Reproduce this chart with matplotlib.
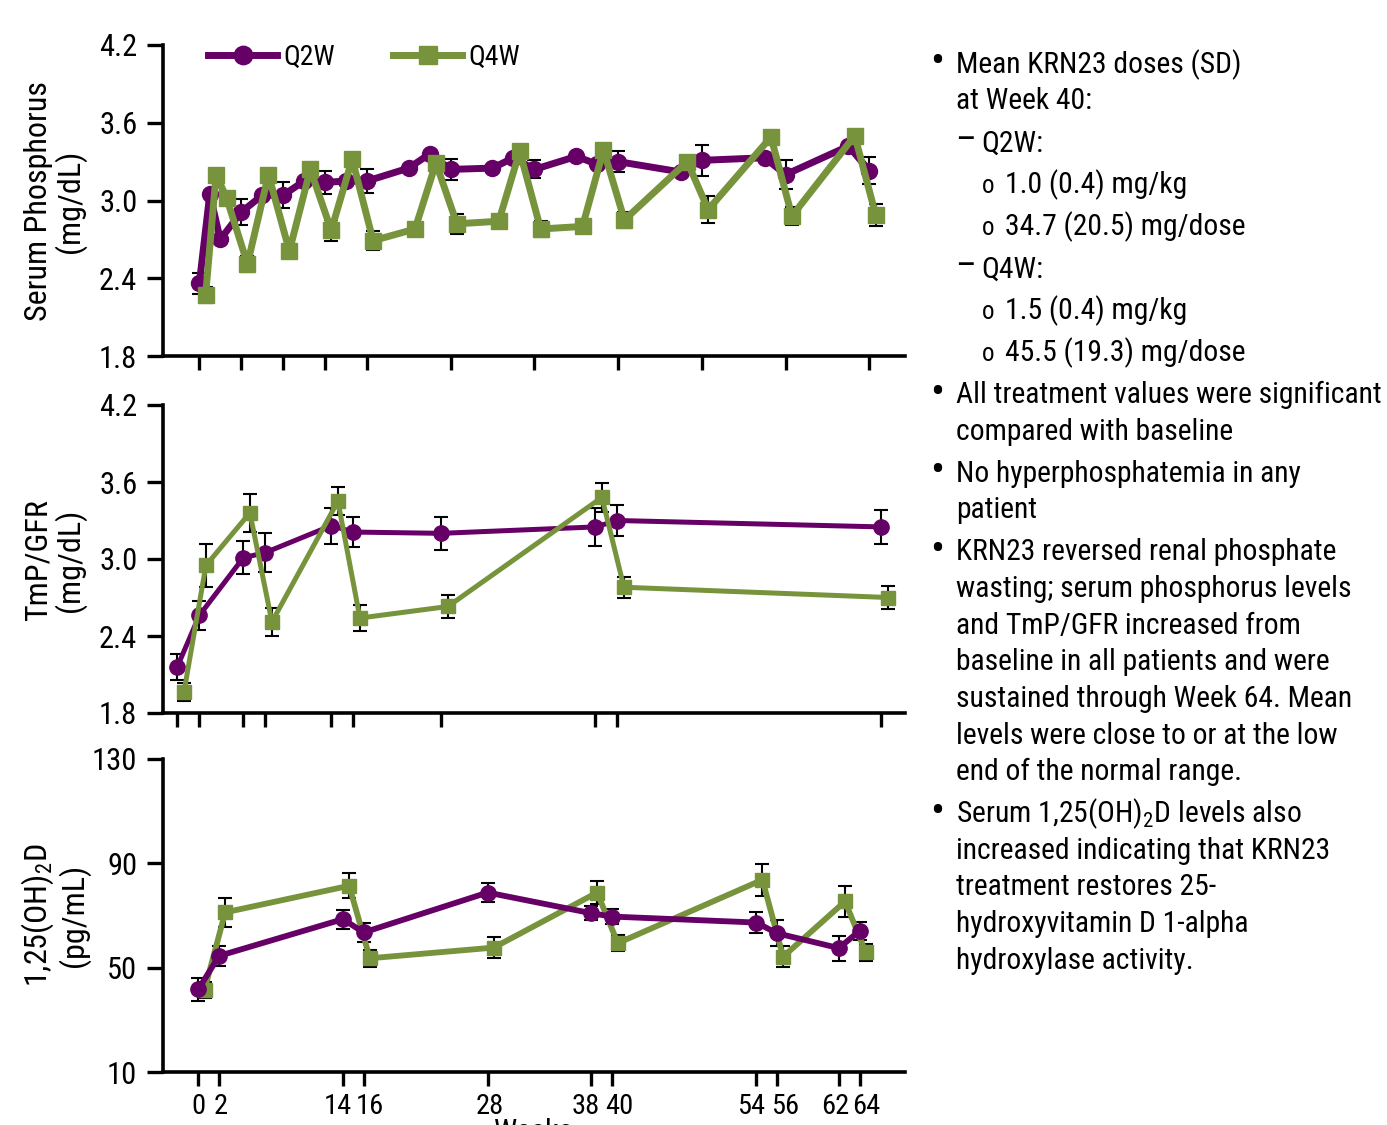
import numpy as np
import matplotlib
matplotlib.use("Agg")
import matplotlib.pyplot as plt
from matplotlib import font_manager
from matplotlib.transforms import ScaledTranslation

# ---- data ----
# serum phosphorus, mg/dL
sp_weeks = [0, 1, 2, 4, 6, 8, 10, 12, 14, 16, 20, 22, 24, 28, 30, 32, 36, 38, 40, 46, 48, 54, 56, 62, 64]
sp_q2w = [2.36, 3.05, 2.70, 2.91, 3.04, 3.04, 3.15, 3.14, 3.15, 3.15, 3.25, 3.36, 3.24,
          3.25, 3.33, 3.24, 3.34, 3.28, 3.30, 3.22, 3.31, 3.33, 3.20, 3.42, 3.23]
sp_q2w_sd = [0.08, None, None, 0.10, None, 0.10, None, 0.09, None, 0.09, None, None, 0.08,
             None, None, 0.07, None, None, 0.08, None, 0.12, None, 0.11, None, 0.105]
sp_q4w = [2.27, 3.20, 3.02, 2.51, 3.20, 2.61, 3.24, 2.77, 3.32, 2.69, 2.78, 3.29, 2.82,
          2.84, 3.38, 2.78, 2.80, 3.39, 2.85, 3.30, 2.93, 3.49, 2.88, 3.50, 2.89]
sp_q4w_sd = [0.06, None, None, 0.065, None, 0.04, None, 0.08, None, 0.073, None, None, 0.076,
             None, None, 0.058, None, None, 0.064, None, 0.105, None, 0.07, None, 0.085]

# TmP/GFR, mg/dL
tmp_weeks = [0, 2, 6, 8, 14, 16, 24, 38, 40, 64]
tmp_q2w = [2.16, 2.56, 3.01, 3.05, 3.26, 3.21, 3.20, 3.25, 3.30, 3.25]
tmp_q2w_sd = [0.10, 0.11, 0.13, 0.15, 0.14, 0.12, 0.13, 0.15, 0.12, 0.13]
tmp_q4w = [1.96, 2.95, 3.36, 2.51, 3.45, 2.54, 2.63, 3.48, 2.78, 2.70]
tmp_q4w_sd = [0.07, 0.17, 0.15, 0.11, 0.11, 0.10, 0.09, 0.11, 0.08, 0.09]

# 1,25(OH)2D, pg/mL
vd_weeks = [0, 2, 14, 16, 28, 38, 40, 54, 56, 62, 64]
vd_q2w = [41.7, 54.5, 68.6, 63.5, 78.8, 70.9, 69.6, 67.3, 63.2, 57.5, 64.1]
vd_q2w_sd = [4.5, 3.8, 3.7, 3.7, 3.6, 2.7, 3.0, 4.2, 5.0, 4.8, 3.5]
vd_q4w = [41.5, 71.2, 81.4, 53.6, 57.7, 78.8, 59.4, 83.7, 54.2, 75.4, 55.9]
vd_q4w_sd = [3.0, 5.6, 4.8, 3.2, 4.1, 4.3, 3.2, 6.1, 4.0, 6.0, 3.3]

sp_ticks = [0, 4, 8, 12, 16, 24, 32, 40, 48, 56, 64]
series_names = ["Q2W", "Q4W"]

notes = [
    (0, ["Mean KRN23 doses (SD)", "at Week 40:"]),
    (1, ["Q2W:"]),
    (2, ["1.0 (0.4) mg/kg"]),
    (2, ["34.7 (20.5) mg/dose"]),
    (1, ["Q4W:"]),
    (2, ["1.5 (0.4) mg/kg"]),
    (2, ["45.5 (19.3) mg/dose"]),
    (0, ["All treatment values were significant", "compared with baseline"]),
    (0, ["No hyperphosphatemia in any", "patient"]),
    (0, ["KRN23 reversed renal phosphate", "wasting; serum phosphorus levels",
         "and TmP/GFR increased from", "baseline in all patients and were",
         "sustained through Week 64. Mean", "levels were close to or at the low",
         "end of the normal range."]),
    (0, ["Serum 1,25(OH)$_\\mathregular{2}$D levels also", "increased indicating that KRN23",
         "treatment restores 25-", "hydroxyvitamin D 1-alpha", "hydroxylase activity."]),
]

PURPLE = "#660066"
GREEN = "#77933C"

# pixel nudges of the crowded week labels in the bottom panel
label_nudge = {0: 0, 2: 2, 14: -5, 16: 6, 28: 2, 38: -5, 40: 8, 54: -5, 56: 8, 62: -4, 64: 7}


def pick_font():
    # a narrow sans is closest to the original; fall back to a regular one, set smaller
    names = {f.name for f in font_manager.fontManager.ttflist}
    for name in ["Liberation Sans Narrow", "Roboto Condensed", "DejaVu Sans Condensed",
                 "Noto Sans Condensed", "Open Sans Condensed"]:
        if name in names:
            return name, 1.0
    for n in sorted(names):
        if ("Condensed" in n or "Narrow" in n) and "Mono" not in n and "Serif" not in n:
            return n, 1.0
    return "Liberation Sans", 0.86


FONT, K = pick_font()
plt.rcParams["font.family"] = [FONT, "DejaVu Sans"]
plt.rcParams["mathtext.fontset"] = "custom"
plt.rcParams["mathtext.rm"] = FONT

W, H = 1387, 1125
fig = plt.figure(figsize=(W / 100, H / 100), dpi=100)


def px_rect(left, top, right, bottom):
    return [left / W, 1 - bottom / H, (right - left) / W, (bottom - top) / H]


def draw(ax, weeks, q2w, q2w_sd, q4w, q4w_sd, lw, ms, q2w_top=False, shift=0.6):
    w = np.asarray(weeks, float)
    e1 = np.array([np.nan if v is None else v for v in q2w_sd], float)
    e2 = np.array([np.nan if v is None else v for v in q4w_sd], float)
    ax.errorbar(w, q2w, yerr=e1, fmt="none", ecolor="black", elinewidth=1.5,
                capsize=5, capthick=1.5, zorder=2)
    ax.errorbar(w + shift, q4w, yerr=e2, fmt="none", ecolor="black", elinewidth=1.5,
                capsize=5, capthick=1.5, zorder=2)
    ax.plot(w, q2w, color=PURPLE, lw=lw, marker="o", ms=ms, label=series_names[0],
            zorder=4 if q2w_top else 3)
    ax.plot(w + shift, q4w, color=GREEN, lw=lw, marker="s", ms=ms * 0.95,
            label=series_names[1], zorder=3 if q2w_top else 4)
    for s in ["top", "right"]:
        ax.spines[s].set_visible(False)
    for s in ["left", "bottom"]:
        ax.spines[s].set_linewidth(2.6)
    ax.tick_params(axis="y", direction="out", length=11.5, width=2.4, pad=7,
                   labelsize=22 * K)
    ax.tick_params(axis="x", direction="out", length=10, width=2.4, pad=5,
                   labelsize=20.5 * K)


ax1 = fig.add_axes(px_rect(163, 45, 905, 356))
draw(ax1, sp_weeks, sp_q2w, sp_q2w_sd, sp_q4w, sp_q4w_sd, lw=5, ms=11.5)
ax1.set_xlim(-3.47, 67.4)
ax1.set_ylim(1.8, 4.2)
ax1.set_yticks([1.8, 2.4, 3.0, 3.6, 4.2])
ax1.set_xticks(sp_ticks)
ax1.set_xticklabels([])

ax2 = fig.add_axes(px_rect(163, 405, 905, 713))
draw(ax2, tmp_weeks, tmp_q2w, tmp_q2w_sd, tmp_q4w, tmp_q4w_sd, lw=3.6, ms=11)
ax2.set_xlim(-1.3, 66.15)
ax2.set_ylim(1.8, 4.2)
ax2.set_yticks([1.8, 2.4, 3.0, 3.6, 4.2])
ax2.set_xticks(tmp_weeks)
ax2.set_xticklabels([])

ax3 = fig.add_axes(px_rect(163, 759, 905, 1072))
draw(ax3, vd_weeks, vd_q2w, vd_q2w_sd, vd_q4w, vd_q4w_sd, lw=4.2, ms=11, q2w_top=True)
ax3.set_xlim(-3.42, 68.4)
ax3.set_ylim(10, 130)
ax3.set_yticks([10, 50, 90, 130])
ax3.set_xticks(vd_weeks)
ax3.set_xticklabels([str(v) for v in vd_weeks])
for wk, lab in zip(vd_weeks, ax3.get_xticklabels()):
    dx = label_nudge.get(wk, 0) / 100
    lab.set_transform(lab.get_transform() + ScaledTranslation(dx, 0, fig.dpi_scale_trans))

for a in (ax1, ax2, ax3):
    for t in a.get_yticklabels() + a.get_xticklabels():
        t.set_color("black")

ax1.legend(loc="center left", bbox_to_anchor=((208 - 163) / 742, (356 - 57) / 311),
           ncol=2, frameon=False, fontsize=20 * K, handlelength=2.5, handletextpad=0.2,
           columnspacing=2.1, borderpad=0, borderaxespad=0, markerscale=1.15)

# y labels
ylabels = [("Serum Phosphorus\n(mg/dL)", 201), ("TmP/GFR\n(mg/dL)", 560),
           ("1,25(OH)$_\\mathregular{2}$D\n(pg/mL)", 915)]
for txt, yc in ylabels:
    fig.text(55 / W, 1 - yc / H, txt, rotation=90, ha="center", va="center",
             multialignment="center", fontsize=23 * K, linespacing=1.05)

fig.text(534 / W, 1 - 1118 / H, "Weeks", ha="center", va="top", fontsize=22 * K)

# bullet notes on the right
FS = 21.3 * K
y = 61.7
first = True
for level, lines in notes:
    if not first:
        y += 42
    first = False
    for i, line in enumerate(lines):
        if i > 0:
            y += 36.6
        base = 1 - (y + 11) / H
        if level == 0:
            if i == 0:
                fig.text(937 / W, 1 - (y + 1) / H, "\u2022", ha="center", va="center",
                         fontsize=30)
            fig.text(956 / W, base, line, ha="left", va="baseline", fontsize=FS)
        elif level == 1:
            fig.text(955 / W, base, "\u2013", ha="left", va="baseline", fontsize=26)
            fig.text(981 / W, base, line, ha="left", va="baseline", fontsize=FS)
        else:
            fig.text(988 / W, base, "o", ha="center", va="baseline", fontsize=18)
            fig.text(1005 / W, base, line, ha="left", va="baseline", fontsize=FS)

fig.savefig("out.png", dpi=100)
